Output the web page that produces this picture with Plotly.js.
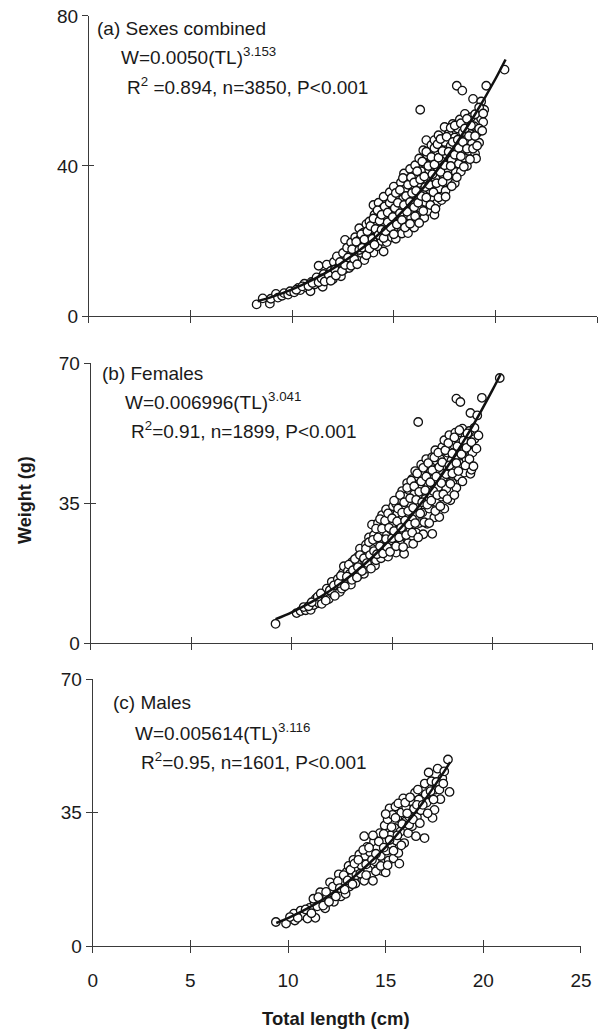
<!DOCTYPE html>
<html>
<head>
<meta charset="utf-8">
<script src="https://cdn.plot.ly/plotly-3.0.1.min.js"></script>
<style>html,body{margin:0;padding:0;background:#fff;}#chart{width:600px;height:1031px;}</style>
</head>
<body>
<div id="chart"></div>
<script>
// ---------- Data ----------
const xTickVals = [0, 5, 10, 15, 20, 25];
const xTickText = ["0", "5", "10", "15", "20", "25"];

// (a) Sexes combined
const aX = [8.25,8.55,8.9,8.95,9.2,9.3,9.5,9.6,9.8,9.9,10.1,10.3,10.4,10.6,10.7,10.9,10.95,11.1,11.2,11.3,11.4,11.5,11.55,11.7,11.75,11.9,12.0,12.05,12.2,12.2,12.3,12.4,12.5,12.55,12.6,12.65,12.7,12.8,12.85,12.9,13.0,13.05,13.1,13.2,13.25,13.3,13.35,13.4,13.5,13.55,13.6,13.65,13.7,13.75,13.8,13.85,13.9,14.0,14.0,14.05,14.1,14.15,14.2,14.25,14.3,14.35,14.4,14.45,14.5,14.5,14.55,14.6,14.65,14.7,14.75,14.8,14.85,14.9,14.95,15.0,15.0,15.05,15.1,15.15,15.2,15.25,15.3,15.35,15.4,15.45,15.5,15.5,15.55,15.6,15.65,15.7,15.7,15.75,15.8,15.85,15.9,15.95,16.0,16.0,16.05,16.1,16.15,16.2,16.25,16.3,16.3,16.35,16.4,16.45,16.5,16.5,16.55,16.6,16.6,16.65,16.7,16.75,16.8,16.85,16.9,16.95,17.0,17.0,17.05,17.1,17.1,17.15,17.2,17.25,17.3,17.35,17.4,17.45,17.5,17.5,17.55,17.6,17.65,17.7,17.75,17.8,17.85,17.9,18.0,18.0,18.05,18.1,18.1,18.15,18.2,18.25,18.3,18.35,18.37,18.4,18.45,18.5,18.55,18.6,18.65,18.7,18.75,18.8,18.85,18.9,18.95,19.0,19.05,19.1,19.15,19.2,19.3,19.3,19.4,19.45,19.55,20.45];
const aY = [3.1,4.7,3.3,4.6,5.9,4.9,5.4,6.1,5.7,6.6,6.3,7.5,6.9,8.6,7.6,6.6,9.1,8.4,10.3,13.4,9.4,7.8,11.2,13.7,10.4,12.0,9.8,14.4,15.9,11.6,13.2,10.6,16.8,12.4,20.3,14.8,18.2,12.8,16.1,19.6,14.1,17.4,21.0,15.6,18.9,23.4,20.6,16.8,22.2,14.9,19.3,24.5,17.6,21.4,25.2,19.8,23.1,29.6,16.9,27.0,21.0,24.8,18.6,30.2,22.8,26.4,20.0,28.7,17.2,31.8,24.0,26.8,19.7,29.4,22.3,33.0,25.6,21.0,28.2,34.5,23.4,30.6,20.6,26.9,32.4,24.6,29.0,35.6,22.0,31.2,38.0,26.6,33.8,24.2,36.4,22.1,29.8,31.9,39.2,26.2,34.6,28.4,37.4,23.6,40.2,31.0,25.8,35.4,42.0,55.0,28.8,38.6,33.0,44.2,26.2,40.8,30.4,46.9,36.2,43.0,28.0,38.8,33.6,45.6,31.0,41.4,27.0,46.9,36.8,43.8,30.0,39.6,48.2,34.0,44.8,30.9,41.2,37.2,50.4,46.4,33.4,43.0,39.0,48.6,35.6,45.4,41.6,51.2,35.4,47.6,38.4,61.4,43.8,50.0,40.6,52.4,38.5,45.8,60.1,49.0,42.2,53.9,47.0,40.0,51.0,44.0,48.6,53.0,46.0,57.9,50.6,43.3,42.0,48.8,53.6,46.2,52.6,57.2,51.7,55.0,61.4,65.7];
const aX2 = [10.2,10.5,10.8,11.0,11.3,11.45,11.6,11.8,11.9,12.1,12.15,12.35,12.45,12.6,12.75,12.9,12.95,13.05,13.15,13.2,13.3,13.4,13.45,13.55,13.65,13.7,13.8,13.85,13.95,14.0,14.05,14.1,14.2,14.25,14.3,14.4,14.4,14.5,14.55,14.6,14.7,14.7,14.8,14.85,14.9,14.95,15.0,15.05,15.1,15.15,15.2,15.3,15.3,15.4,15.45,15.5,15.55,15.6,15.65,15.7,15.8,15.8,15.85,15.9,16.0,16.0,16.05,16.1,16.15,16.2,16.25,16.3,16.35,16.4,16.45,16.5,16.55,16.6,16.6,16.7,16.75,16.8,16.85,16.9,16.95,17.0,17.0,17.05,17.1,17.15,17.2,17.2,17.3,17.3,17.4,17.4,17.5,17.55,17.6,17.65,17.7,17.8,17.8,17.85,17.9,18.0,18.0,18.1,18.15,18.2,18.3,18.3,18.4,18.45,18.5,18.6,18.6,18.7,18.75,18.8,18.9,19.0,19.0,19.1,19.2,19.2,19.35,19.4];
const aY2 = [7.0,7.9,8.0,8.8,9.0,10.0,9.2,11.0,9.4,12.4,10.8,14.4,12.0,13.6,15.6,13.4,17.8,15.2,19.8,13.8,17.6,21.8,18.2,20.4,16.2,22.6,18.0,24.0,20.6,26.0,19.0,23.2,28.2,21.6,25.4,27.0,23.0,20.8,29.2,22.6,25.0,27.6,30.2,23.6,31.4,26.4,21.8,28.8,32.8,24.4,30.2,27.4,33.6,25.6,36.8,29.6,23.6,32.0,27.8,35.0,30.4,24.6,37.0,32.8,29.0,35.6,26.6,33.4,38.6,30.2,24.8,36.4,32.0,41.2,28.0,37.2,34.4,43.8,31.6,40.0,35.0,29.6,42.4,37.8,33.0,44.8,40.4,28.6,35.4,45.8,42.2,31.6,38.4,47.2,35.8,44.0,40.2,31.8,47.8,37.4,43.8,50.2,40.0,34.6,46.4,43.0,50.8,37.0,47.0,44.8,51.4,42.6,46.4,39.8,50.0,44.6,52.6,48.0,41.8,50.8,44.6,53.8,48.0,45.4,50.0,55.6,49.4,54.0];
const aFitX = [8.3, 9, 10, 11, 12, 13, 14, 15, 16, 17, 18, 19, 20, 20.5];
const aFitY = [3.95, 5.10, 7.11, 9.61, 12.64, 16.27, 20.55, 25.55, 31.3, 37.9, 45.4, 53.8, 63.2, 68.4];

// (b) Females
const bX = [9.2,10.25,10.45,10.7,10.95,11.1,11.2,11.35,11.5,11.6,11.75,11.85,12.0,12.05,12.2,12.3,12.4,12.5,12.55,12.6,12.7,12.8,12.9,12.95,13.0,13.1,13.2,13.3,13.35,13.4,13.45,13.55,13.6,13.65,13.7,13.75,13.8,13.85,13.9,14.0,14.0,14.05,14.1,14.15,14.2,14.25,14.3,14.35,14.4,14.45,14.5,14.55,14.6,14.6,14.65,14.7,14.75,14.8,14.85,14.9,14.9,14.95,15.0,15.05,15.1,15.15,15.2,15.2,15.25,15.3,15.35,15.4,15.45,15.5,15.5,15.55,15.6,15.6,15.65,15.7,15.75,15.8,15.85,15.9,15.95,16.0,16.0,16.05,16.1,16.15,16.2,16.25,16.3,16.3,16.35,16.4,16.45,16.5,16.55,16.6,16.65,16.7,16.75,16.8,16.85,16.9,16.95,17.0,17.0,17.05,17.1,17.15,17.2,17.25,17.3,17.35,17.4,17.45,17.5,17.55,17.6,17.6,17.65,17.7,17.75,17.8,17.85,17.9,17.95,18.0,18.05,18.1,18.15,18.2,18.2,18.25,18.3,18.35,18.4,18.45,18.5,18.55,18.6,18.65,18.7,18.8,18.85,18.9,18.9,18.95,19.0,19.1,19.24,19.3,19.47,20.36];
const bY = [4.8,7.5,8.0,8.2,8.3,9.5,11.1,10.0,9.8,12.0,13.6,11.0,15.3,12.3,13.8,16.0,12.8,13.6,17.5,19.2,15.0,18.0,17.3,14.6,20.2,16.2,18.8,21.6,17.0,23.6,19.6,22.0,17.3,20.6,24.6,18.6,22.8,26.4,20.4,29.6,24.0,21.8,27.0,19.4,20.7,25.2,30.0,22.8,27.8,21.2,32.0,25.0,25.7,29.4,23.2,33.4,27.2,21.6,30.6,32.3,25.4,28.4,23.6,34.2,30.0,26.4,34.8,22.6,32.2,28.2,36.0,24.8,30.8,38.0,26.8,34.0,22.3,29.2,36.6,32.0,40.0,25.0,38.2,28.0,34.6,41.0,31.0,24.8,37.2,43.0,27.6,34.0,41.5,55.25,30.0,38.8,44.6,32.6,27.2,42.0,36.0,46.0,29.8,39.6,33.6,44.2,37.0,27.3,46.5,41.0,31.4,48.2,35.2,43.6,39.0,31.5,46.0,36.6,49.0,41.4,50.7,33.6,44.4,38.6,47.6,42.2,52.0,35.7,45.6,40.0,49.6,43.0,52.6,61.1,38.8,47.0,41.6,50.6,60.25,44.8,53.6,48.0,42.6,51.6,46.0,49.6,53.0,42.3,57.5,43.3,47.6,51.0,56.9,51.9,61.3,66.25];
const bX2 = [10.6,10.85,11.0,11.3,11.45,11.7,11.9,12.1,12.15,12.35,12.45,12.65,12.75,12.85,13.0,13.05,13.15,13.25,13.3,13.4,13.5,13.6,13.7,13.75,13.85,13.9,13.95,14.05,14.1,14.2,14.25,14.3,14.4,14.4,14.5,14.55,14.65,14.7,14.75,14.8,14.85,14.9,15.0,15.0,15.1,15.1,15.2,15.25,15.3,15.35,15.4,15.45,15.5,15.55,15.6,15.65,15.7,15.75,15.8,15.85,15.9,15.95,16.0,16.05,16.1,16.15,16.2,16.25,16.3,16.35,16.4,16.45,16.5,16.55,16.6,16.65,16.7,16.75,16.8,16.85,16.9,16.95,17.0,17.05,17.1,17.15,17.2,17.25,17.3,17.35,17.4,17.45,17.5,17.55,17.65,17.7,17.75,17.8,17.85,17.9,18.0,18.0,18.1,18.1,18.2,18.25,18.3,18.35,18.45,18.5,18.55,18.65,18.7,18.75,18.85,18.95,19.05,19.1,19.2];
const bY2 = [9.0,9.2,10.2,11.6,12.4,10.6,13.2,14.4,11.8,15.0,16.8,14.2,16.6,19.6,15.8,18.2,21.0,16.4,19.0,22.0,18.0,21.2,23.6,20.0,25.2,22.0,18.6,25.8,23.0,28.6,22.2,26.4,31.0,24.2,28.6,22.4,30.6,26.0,24.0,32.4,28.8,22.8,31.2,26.2,35.6,28.0,24.2,30.4,33.6,26.4,37.0,28.8,32.6,24.0,35.2,30.6,27.0,38.8,33.0,29.6,36.2,40.6,27.6,33.8,39.2,30.0,35.8,42.4,26.4,37.8,32.4,40.4,35.2,43.8,30.2,38.2,41.6,34.6,45.0,30.0,40.2,35.6,43.2,38.0,46.4,33.0,41.6,37.0,47.6,44.0,34.2,40.0,45.2,37.2,48.2,42.2,36.0,50.0,44.4,39.8,47.4,42.4,51.4,37.0,45.0,49.2,43.0,53.2,47.2,40.4,50.6,44.4,48.8,52.4,46.0,50.2,44.2,53.8,48.6];
const bFitX = [9.2, 10, 11, 12, 13, 14, 15, 16, 17, 18, 19, 20, 20.4];
const bFitY = [5.97, 7.69, 10.27, 13.38, 17.07, 21.39, 26.39, 32.11, 38.61, 45.94, 54.14, 63.28, 67.2];

// (c) Males
const cX = [9.38,9.9,10.3,10.35,10.65,10.8,11.0,11.1,11.36,11.4,11.5,11.65,11.75,11.9,12.0,12.15,12.25,12.35,12.5,12.6,12.7,12.8,12.95,13.0,13.1,13.15,13.25,13.35,13.45,13.55,13.65,13.75,13.8,13.9,13.9,13.95,14.05,14.1,14.2,14.25,14.35,14.4,14.45,14.55,14.6,14.7,14.75,14.8,14.85,14.95,15.0,15.05,15.1,15.15,15.2,15.25,15.3,15.35,15.4,15.45,15.5,15.55,15.6,15.65,15.7,15.75,15.8,15.9,15.95,16.0,16.05,16.15,16.2,16.3,16.35,16.45,16.5,16.55,16.6,16.7,16.8,16.9,16.99,17.0,17.1,17.2,17.25,17.34,17.4,17.5,17.55,17.66,17.8,17.9,18.19,18.27];
const cY = [6.3,5.9,8.5,6.7,9.3,8.0,7.2,10.0,11.5,7.4,10.4,14.1,12.0,9.9,12.8,16.7,14.0,11.6,15.2,18.8,13.0,16.8,13.7,19.4,21.0,15.6,18.0,22.6,16.4,19.8,24.0,21.2,17.6,28.8,17.1,23.6,26.0,20.0,24.6,18.4,17.1,27.4,22.2,25.6,20.2,29.6,23.6,19.7,27.2,31.6,19.3,25.0,33.2,22.4,36.1,29.0,26.6,34.4,23.0,31.0,36.6,27.6,33.6,24.4,21.6,30.0,35.0,38.7,27.0,32.6,36.4,29.6,34.0,38.0,31.4,36.0,40.2,28.8,33.8,38.4,35.6,40.6,28.3,42.6,37.6,45.5,39.8,43.2,33.6,35.7,41.0,46.5,38.5,44.0,48.9,40.4];
const cX2 = [10.1,10.5,10.9,11.2,11.3,11.55,11.8,11.95,12.1,12.3,12.45,12.55,12.65,12.85,12.9,13.05,13.2,13.3,13.4,13.5,13.6,13.7,13.85,14.0,14.0,14.15,14.3,14.35,14.5,14.5,14.65,14.75,14.9,14.9,15.0,15.1,15.2,15.3,15.4,15.5,15.6,15.65,15.8,15.85,16.0,16.1,16.2,16.25,16.4,16.6,16.65,16.75,16.9,17.05,17.15,17.3,17.45,17.6,17.75,18.0,17.95];
const cY2 = [7.6,7.4,9.6,8.6,12.4,12.8,10.6,14.2,11.6,15.6,13.0,17.0,15.2,18.6,14.8,17.2,20.0,16.2,21.6,18.6,22.6,19.0,25.2,21.4,18.6,25.8,22.6,29.0,24.2,19.6,27.4,21.0,25.8,29.4,34.6,21.2,27.8,31.2,25.0,33.6,29.0,37.4,26.4,32.0,37.6,34.8,31.8,39.0,33.2,37.0,41.0,32.2,37.0,39.8,34.8,40.6,38.4,43.0,41.0,45.8,42.6];
const cFitX = [9.4, 10, 11, 12, 13, 14, 15, 16, 17, 18, 18.3];
const cFitY = [6.05, 7.33, 9.87, 12.94, 16.61, 20.92, 25.94, 31.72, 38.31, 45.79, 48.2];

const panelLabels = ["(a) Sexes combined", "(b) Females", "(c) Males"];
const equations = ["W=0.0050(TL)<sup>3.153</sup>", "W=0.006996(TL)<sup>3.041</sup>", "W=0.005614(TL)<sup>3.116</sup>"];
const statsText = ["R<sup>2</sup> =0.894, n=3850, P&lt;0.001", "R<sup>2</sup>=0.91, n=1899, P&lt;0.001", "R<sup>2</sup>=0.95, n=1601, P&lt;0.001"];
const yTickVals = [[0, 40, 80], [0, 35, 70], [0, 35, 70]];
const yRanges = [[0, 80], [0, 70], [0, 70]];

// ---------- Styling ----------
const FONT = "Liberation Sans, Arial, sans-serif";
const INK = "#1a1a1a";
const AX = "#3a3a3a";

const markerStyle = {symbol: "circle", size: 8.5, color: "#ffffff", line: {color: "#111111", width: 1.3}};
const fitLine = {color: "#111111", width: 2.5, shape: "spline"};

const xs = [aX.concat(aX2), bX.concat(bX2), cX.concat(cX2)];
const ys = [aY.concat(aY2), bY.concat(bY2), cY.concat(cY2)];
const fx = [aFitX, bFitX, cFitX], fy = [aFitY, bFitY, cFitY];
const axSuffix = ["", "2", "3"];
const ovSuffix = ["4", "5", "6"];

const traces = [];
for (let i = 0; i < 3; i++) {
  traces.push({x: xs[i], y: ys[i], type: "scatter", mode: "markers", marker: markerStyle,
    xaxis: "x" + axSuffix[i], yaxis: "y" + axSuffix[i], showlegend: false, hoverinfo: "skip", cliponaxis: false});
  traces.push({x: fx[i], y: fy[i], type: "scatter", mode: "lines", line: fitLine,
    xaxis: "x" + axSuffix[i], yaxis: "y" + axSuffix[i], showlegend: false, hoverinfo: "skip"});
  traces.push({x: [], y: [], type: "scatter", mode: "markers",
    xaxis: "x" + ovSuffix[i], yaxis: "y" + ovSuffix[i], showlegend: false, hoverinfo: "skip"});
}

const xDomains = [[0.1483, 0.995], [0.1512, 0.9883], [0.1545, 0.9683]];
const yDomains = [[0.6935, 0.9845], [0.3763, 0.6479], [0.0824, 0.3414]];

const layout = {
  width: 600, height: 1031,
  margin: {l: 0, r: 0, t: 0, b: 0},
  paper_bgcolor: "#ffffff", plot_bgcolor: "rgba(0,0,0,0)",
  font: {family: FONT, color: INK, size: 19},
  showlegend: false,
  annotations: []
};

for (let i = 0; i < 3; i++) {
  const xs_ = axSuffix[i], ov = ovSuffix[i];
  const isBottom = i === 2;
  layout["xaxis" + xs_] = {
    domain: xDomains[i], range: [0, 25], anchor: "y" + xs_,
    tickmode: "array", tickvals: xTickVals, ticktext: xTickText,
    showticklabels: isBottom, ticks: "outside", ticklen: 6, tickwidth: 1, tickcolor: AX,
    showline: true, linecolor: AX, linewidth: 1, showgrid: false, zeroline: false,
    tickfont: {family: FONT, size: 19, color: INK}, ticklabelstandoff: 11, fixedrange: true
  };
  layout["yaxis" + xs_] = {
    domain: yDomains[i], range: yRanges[i], anchor: "x" + xs_,
    tickmode: "array", tickvals: yTickVals[i],
    ticks: "outside", ticklen: 6, tickwidth: 1, tickcolor: AX,
    showline: true, linecolor: AX, linewidth: 1, showgrid: false, zeroline: false,
    tickfont: {family: FONT, size: 19, color: INK}, fixedrange: true
  };
  layout["xaxis" + ov] = {
    overlaying: "x" + xs_, anchor: "y" + ov, range: [0, 25],
    tickmode: "array", tickvals: xTickVals, showticklabels: false,
    ticks: "inside", ticklen: 6, tickwidth: 1, tickcolor: AX,
    showline: false, showgrid: false, zeroline: false, fixedrange: true
  };
  layout["yaxis" + ov] = {
    overlaying: "y" + xs_, anchor: "x" + ov, range: yRanges[i],
    tickmode: "array", tickvals: yTickVals[i], showticklabels: false,
    ticks: "inside", ticklen: 5, tickwidth: 1, tickcolor: AX,
    showline: false, showgrid: false, zeroline: false, fixedrange: true
  };
}

const labelPos = [[0.31, 76.6], [0.48, 67.4], [0.92, 63.8]];
const eqPos = [[1.48, 69.3], [1.6, 60.6], [2.08, 56.2]];
const statPos = [[1.75, 61.2], [1.89, 53.2], [2.38, 48.6]];
for (let i = 0; i < 3; i++) {
  const xr = "x" + axSuffix[i], yr = "y" + axSuffix[i];
  const base = {xref: xr, yref: yr, xanchor: "left", yanchor: "middle", showarrow: false,
    font: {family: FONT, size: 19, color: INK}};
  layout.annotations.push(Object.assign({}, base, {x: labelPos[i][0], y: labelPos[i][1], text: panelLabels[i]}));
  layout.annotations.push(Object.assign({}, base, {x: eqPos[i][0], y: eqPos[i][1], text: equations[i]}));
  layout.annotations.push(Object.assign({}, base, {x: statPos[i][0], y: statPos[i][1], text: statsText[i]}));
}

layout.annotations.push({xref: "paper", yref: "paper", x: 25 / 600, y: 1 - 500 / 1031,
  text: "<b>Weight (g)</b>", textangle: -90, showarrow: false, xanchor: "center", yanchor: "middle",
  font: {family: FONT, size: 18, color: INK}});
layout.annotations.push({xref: "paper", yref: "paper", x: 336 / 600, y: 1 - 1018 / 1031,
  text: "<b>Total length (cm)</b>", showarrow: false, xanchor: "center", yanchor: "middle",
  font: {family: FONT, size: 18.5, color: INK}});

Plotly.newPlot("chart", traces, layout, {staticPlot: true, displayModeBar: false});
</script>
</body>
</html>
